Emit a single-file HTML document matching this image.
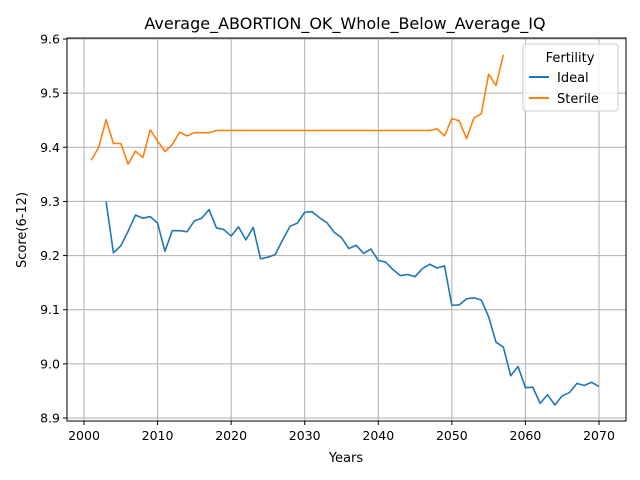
<!DOCTYPE html>
<html><head><meta charset="utf-8"><style>
html,body{margin:0;padding:0;background:#fff}
svg{display:block;font-family:"DejaVu Sans","Liberation Sans",sans-serif}
</style></head><body>
<svg id="chart" width="640" height="480" xmlns="http://www.w3.org/2000/svg">
<rect width="640" height="480" fill="#fff"/>
<text x="345" y="29" text-anchor="middle" font-size="16">Average_ABORTION_OK_Whole_Below_Average_IQ</text>
<g id="grid"></g>
<g id="series"></g>
<rect x="67" y="38" width="559" height="383" fill="none" stroke="#000" stroke-width="1"/>
<g id="ticks"></g>
<text x="346" y="462" text-anchor="middle" font-size="13">Years</text>
<text transform="translate(26,230) rotate(-90)" text-anchor="middle" font-size="13">Score(6-12)</text>
<g>
<rect x="523" y="44" width="95" height="67" rx="3" fill="#fff" fill-opacity="0.8" stroke="#ccc"/>
<text x="570" y="62" text-anchor="middle" font-size="13">Fertility</text>
<g><line x1="529" y1="77" x2="549" y2="77" stroke="#1f77b4" stroke-width="2"/><text x="557" y="82" font-size="13">Ideal</text></g>
<g><line x1="529" y1="98" x2="549" y2="98" stroke="#ff7f0e" stroke-width="2"/><text x="557" y="103" font-size="13">Sterile</text></g>
</g>
</svg>
<script>
const idealStart = 2003;
const idealValues = [9.300,9.205,9.218,9.245,9.275,9.269,9.272,9.260,9.208,9.246,9.246,9.244,9.264,9.269,9.285,9.251,9.248,9.236,9.253,9.229,9.252,9.194,9.197,9.202,9.229,9.254,9.260,9.280,9.281,9.270,9.261,9.243,9.233,9.213,9.219,9.204,9.212,9.191,9.188,9.174,9.163,9.165,9.161,9.176,9.184,9.177,9.181,9.108,9.109,9.120,9.122,9.118,9.087,9.040,9.031,8.978,8.995,8.956,8.957,8.927,8.943,8.924,8.941,8.947,8.964,8.960,8.966,8.958];
const sterileStart = 2001;
const sterileValues = [9.376,9.400,9.451,9.407,9.407,9.369,9.393,9.381,9.432,9.412,9.392,9.405,9.428,9.421,9.427,9.427,9.427,9.431,9.431,9.431,9.431,9.431,9.431,9.431,9.431,9.431,9.431,9.431,9.431,9.431,9.431,9.431,9.431,9.431,9.431,9.431,9.431,9.431,9.431,9.431,9.431,9.431,9.431,9.431,9.431,9.431,9.431,9.434,9.421,9.453,9.449,9.416,9.454,9.462,9.535,9.514,9.571];
const xTicks = [2000,2010,2020,2030,2040,2050,2060,2070];
const yTicks = [8.9,9.0,9.1,9.2,9.3,9.4,9.5,9.6];

const NS="http://www.w3.org/2000/svg";
const xs = v => 84 + (v-2000)*(599-84)/70;
const ys = v => 418 - (v-8.9)*(418-39)/0.7;
const grid=document.getElementById('grid'), ticks=document.getElementById('ticks'), ser=document.getElementById('series');
function mk(tag,attrs,parent){const e=document.createElementNS(NS,tag);for(const k in attrs)e.setAttribute(k,attrs[k]);parent.appendChild(e);return e;}
xTicks.forEach(t=>{
  const x=xs(t);
  const g=mk('line',{x1:x,x2:x,y1:38,y2:421,stroke:'#b0b0b0','stroke-width':1},grid);
  
  
  mk('line',{x1:x,x2:x,y1:421,y2:425,stroke:'#000'},ticks);
  const tx=mk('text',{x:x,y:440,'text-anchor':'middle','font-size':12.5},ticks);
  tx.textContent=t;
  
  
});
yTicks.forEach(t=>{
  const y=ys(t);
  const g=mk('line',{x1:67,x2:626,y1:y,y2:y,stroke:'#b0b0b0','stroke-width':1},grid);
  
  
  mk('line',{x1:63,x2:67,y1:y,y2:y,stroke:'#000'},ticks);
  const tx=mk('text',{x:60,y:y+4.5,'text-anchor':'end','font-size':12.5},ticks);
  tx.textContent=t.toFixed(1);
  
  
});
function line(start,vals,color,name){
  const pts=vals.map((v,i)=>xs(start+i).toFixed(2)+','+ys(v).toFixed(2)).join(' ');
  const p=mk('polyline',{points:pts,fill:'none',stroke:color,'stroke-width':1.6,'stroke-linejoin':'round'},ser);
  
  
}
line(idealStart,idealValues,'#1f77b4','ideal-line');
line(sterileStart,sterileValues,'#ff7f0e','sterile-line');
</script>
</body></html>
